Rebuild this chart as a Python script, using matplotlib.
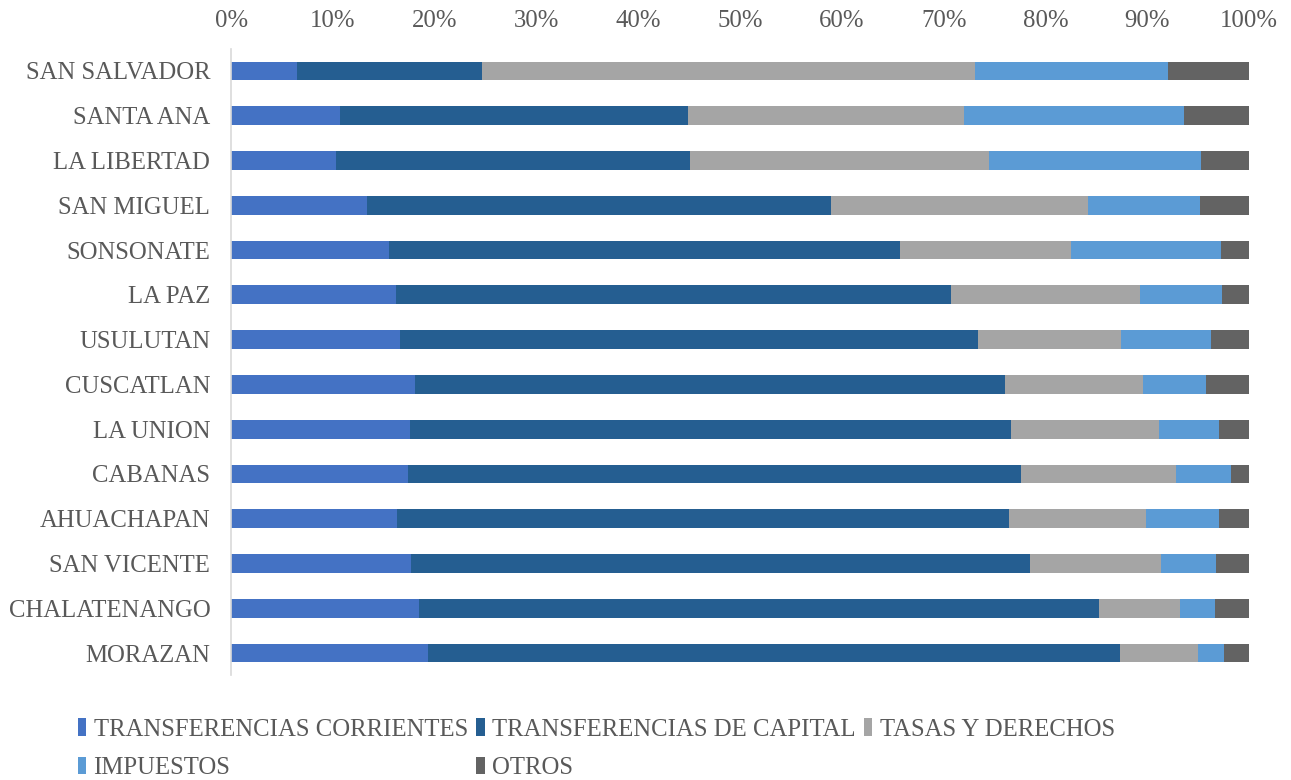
import matplotlib.pyplot as plt
import numpy as np

plt.rcParams['font.family'] = ['Liberation Serif', 'DejaVu Serif']

departamentos = ['SAN SALVADOR', 'SANTA ANA', 'LA LIBERTAD', 'SAN MIGUEL', 'SONSONATE',
                 'LA PAZ', 'USULUTAN', 'CUSCATLAN', 'LA UNION', 'CABANAS',
                 'AHUACHAPAN', 'SAN VICENTE', 'CHALATENANGO', 'MORAZAN']

# shares in percent, one value per departamento
transf_corrientes = [6.5, 10.7, 10.3, 13.4, 15.5, 16.2, 16.6, 18.1, 17.6, 17.4, 16.3, 17.7, 18.5, 19.3]
transf_capital = [18.1, 34.2, 34.8, 45.5, 50.2, 54.5, 56.8, 57.9, 59.0, 60.2, 60.1, 60.8, 66.8, 68.0]
tasas_derechos = [48.5, 27.1, 29.4, 25.3, 16.8, 18.6, 14.0, 13.6, 14.6, 15.2, 13.5, 12.9, 7.9, 7.7]
impuestos = [18.9, 21.6, 20.8, 11.0, 14.7, 8.0, 8.9, 6.2, 5.8, 5.4, 7.1, 5.4, 3.5, 2.5]
otros = [8.0, 6.4, 4.7, 4.8, 2.8, 2.7, 3.7, 4.2, 3.0, 1.8, 3.0, 3.2, 3.3, 2.5]

series = [
    ('TRANSFERENCIAS CORRIENTES', transf_corrientes, '#4472C4'),
    ('TRANSFERENCIAS DE CAPITAL', transf_capital, '#255E91'),
    ('TASAS Y DERECHOS', tasas_derechos, '#A5A5A5'),
    ('IMPUESTOS', impuestos, '#5B9BD5'),
    ('OTROS', otros, '#636363'),
]

fig = plt.figure(figsize=(12.91, 7.80), dpi=100)
ax = fig.add_axes([0.179, 0.134, 0.7885, 0.8037])

y = np.arange(len(departamentos))
totals = np.sum([s[1] for s in series], axis=0)
left = np.zeros(len(departamentos))
bars = {}
for name, vals, col in series:
    share = np.array(vals) / totals
    bars[name] = ax.barh(y, share, left=left, height=0.42, color=col, label=name)
    left += share

ax.set_xlim(0, 1)
ax.set_ylim(len(departamentos) - 0.5, -0.5)
ax.set_xticks(np.linspace(0, 1, 11))
ax.set_xticklabels([f'{i}%' for i in range(0, 101, 10)])
ax.set_yticks(y)
ax.set_yticklabels(departamentos)
ax.xaxis.tick_top()
ax.tick_params(axis='x', length=0, pad=12, labelsize=17.8, labelcolor='#595959')
ax.tick_params(axis='y', length=0, pad=15, labelsize=17.8, labelcolor='#595959')
for side in ['top', 'right', 'bottom']:
    ax.spines[side].set_visible(False)
ax.spines['left'].set_color('#D9D9D9')
ax.spines['left'].set_linewidth(1.2)

# order so that column-major filling gives rows: TC, TK, TASAS / IMP, OTROS
order = ['TRANSFERENCIAS CORRIENTES', 'IMPUESTOS', 'TRANSFERENCIAS DE CAPITAL',
         'OTROS', 'TASAS Y DERECHOS']
leg = fig.legend([bars[n] for n in order], order, loc='upper left',
                 bbox_to_anchor=(0.0604, 0.079), ncol=3, frameon=False,
                 fontsize=17.8, handlelength=0.33, handleheight=0.7,
                 handletextpad=0.3, columnspacing=0.35, labelspacing=0.65,
                 borderpad=0, borderaxespad=0)
for t in leg.get_texts():
    t.set_color('#595959')

fig.savefig('out.png', dpi=100)
